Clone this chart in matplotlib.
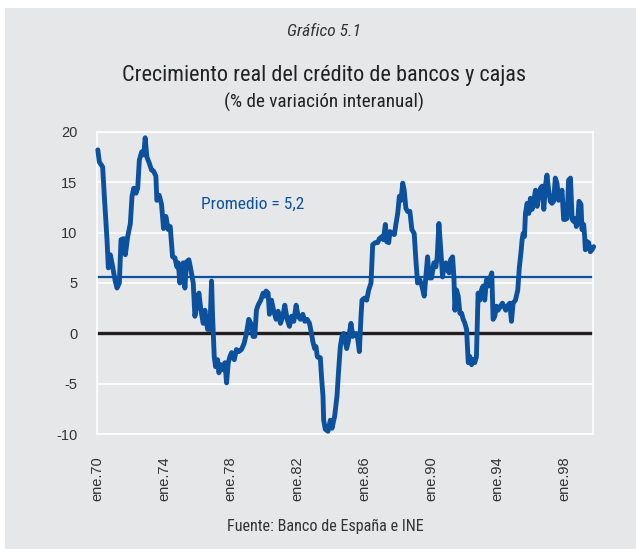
import os
import matplotlib
matplotlib.use("Agg")
import matplotlib.pyplot as plt
from matplotlib.patches import Rectangle
from matplotlib import font_manager as fm

# ---- data ----
years = [
    1970.03, 1970.12, 1970.32, 1970.42, 1970.58, 1970.66, 1970.78, 1970.92, 1971.06, 1971.18,
    1971.32, 1971.42, 1971.58, 1971.68, 1971.82, 1971.98, 1972.08, 1972.18, 1972.32, 1972.42,
    1972.52, 1972.66, 1972.78, 1972.87, 1972.97, 1973.11, 1973.25, 1973.37, 1973.51, 1973.57,
    1973.71, 1973.85, 1973.97, 1974.11, 1974.25, 1974.37, 1974.51, 1974.65, 1974.77, 1974.85,
    1974.95, 1975.05, 1975.15, 1975.25, 1975.35, 1975.49, 1975.61, 1975.75, 1975.85, 1975.95,
    1976.09, 1976.21, 1976.35, 1976.45, 1976.61, 1976.75, 1976.85, 1976.91, 1977.01, 1977.09,
    1977.21, 1977.29, 1977.41, 1977.55, 1977.65, 1977.75, 1977.85, 1977.95, 1978.05, 1978.21,
    1978.34, 1978.48, 1978.64, 1978.80, 1978.94, 1979.08, 1979.20, 1979.34, 1979.44, 1979.54,
    1979.64, 1979.80, 1979.94, 1980.04, 1980.12, 1980.24, 1980.32, 1980.44, 1980.58, 1980.72,
    1980.84, 1980.98, 1981.12, 1981.24, 1981.38, 1981.52, 1981.64, 1981.78, 1981.92, 1982.04,
    1982.18, 1982.32, 1982.44, 1982.58, 1982.72, 1982.84, 1982.92, 1983.03, 1983.11, 1983.19,
    1983.27, 1983.37, 1983.45, 1983.53, 1983.57, 1983.67, 1983.83, 1983.97, 1984.07, 1984.23,
    1984.37, 1984.47, 1984.57, 1984.67, 1984.77, 1984.87, 1984.95, 1985.05, 1985.13, 1985.21,
    1985.31, 1985.41, 1985.51, 1985.61, 1985.71, 1985.81, 1985.87, 1986.01, 1986.15, 1986.27,
    1986.41, 1986.51, 1986.67, 1986.81, 1986.91, 1987.07, 1987.15, 1987.27, 1987.35, 1987.47,
    1987.55, 1987.67, 1987.81, 1987.91, 1988.01, 1988.11, 1988.21, 1988.31, 1988.40, 1988.50,
    1988.60, 1988.74, 1988.86, 1989.00, 1989.10, 1989.20, 1989.34, 1989.46, 1989.60, 1989.70,
    1989.80, 1989.90, 1990.04, 1990.18, 1990.30, 1990.38, 1990.48, 1990.58, 1990.70, 1990.78,
    1990.90, 1990.98, 1991.10, 1991.18, 1991.30, 1991.38, 1991.44, 1991.54, 1991.64, 1991.74,
    1991.84, 1991.94, 1992.04, 1992.14, 1992.24, 1992.34, 1992.44, 1992.54, 1992.63, 1992.73,
    1992.83, 1992.93, 1993.03, 1993.13, 1993.23, 1993.33, 1993.43, 1993.57, 1993.65, 1993.73,
    1993.83, 1993.93, 1994.03, 1994.17, 1994.29, 1994.37, 1994.49, 1994.63, 1994.73, 1994.83,
    1994.93, 1995.07, 1995.21, 1995.30, 1995.40, 1995.47, 1995.53, 1995.61, 1995.67, 1995.77,
    1995.87, 1995.97, 1996.07, 1996.17, 1996.27, 1996.37, 1996.47, 1996.57, 1996.67, 1996.77,
    1996.87, 1996.96, 1997.06, 1997.16, 1997.26, 1997.36, 1997.46, 1997.56, 1997.66, 1997.76,
    1997.86, 1997.96, 1998.06, 1998.16, 1998.26, 1998.37, 1998.47, 1998.56, 1998.66, 1998.72,
    1998.80, 1998.88, 1999.00, 1999.06, 1999.16, 1999.22, 1999.26, 1999.36, 1999.46, 1999.56,
    1999.66, 1999.76,
]
credito = [
    18.2, 17.0, 16.5, 13.6, 9.3, 6.5, 7.8, 6.6, 5.3, 4.5,
    5.0, 9.3, 9.4, 7.8, 9.6, 10.9, 13.6, 14.4, 13.9, 14.4,
    17.2, 18.0, 17.7, 19.4, 17.5, 16.9, 16.2, 16.1, 15.6, 13.2,
    13.7, 12.8, 10.4, 11.6, 10.3, 10.6, 7.6, 7.5, 6.6, 7.0,
    5.0, 6.6, 7.0, 4.5, 7.1, 7.3, 6.3, 5.0, 1.7, 2.7,
    4.0, 2.3, 1.0, 2.3, 0.4, 0.4, 5.2, 1.7, -2.3, -3.3,
    -2.6, -3.9, -3.1, -3.6, -2.9, -4.9, -2.9, -2.3, -1.9, -2.6,
    -1.6, -1.8, -1.6, -1.0, 0.0, 1.4, 1.0, -0.3, -0.3, 2.3,
    2.8, 3.3, 4.0, 3.7, 4.2, 4.0, 1.9, 3.3, 2.2, 1.4,
    2.2, 1.0, 1.7, 2.8, 1.4, 0.7, 1.7, 1.2, 2.8, 1.7,
    1.4, 1.9, 1.2, 1.4, 1.0, 0.0, -0.8, -1.5, -1.3, -2.3,
    -2.4, -2.4, -4.5, -6.2, -8.6, -9.5, -9.7, -8.6, -9.4, -8.2,
    -6.2, -3.6, -1.3, -0.3, 0.0, -0.8, -1.5, -0.8, 0.2, 1.0,
    -0.3, -0.1, 0.0, -0.5, -1.8, 1.7, 3.3, 3.5, 3.3, 4.3,
    5.0, 8.8, 9.0, 9.0, 9.4, 9.6, 9.3, 10.8, 9.1, 9.0,
    10.1, 9.9, 9.8, 10.9, 11.9, 13.6, 13.2, 14.9, 14.2, 12.4,
    12.1, 12.1, 10.3, 9.9, 7.3, 5.0, 5.3, 4.7, 3.7, 5.6,
    7.6, 5.5, 5.5, 7.0, 6.6, 7.6, 10.9, 8.6, 5.6, 6.6,
    7.0, 6.3, 6.0, 7.3, 7.6, 5.6, 2.3, 4.3, 3.7, 2.0,
    2.0, 1.4, 1.0, 0.4, -2.9, -2.3, -3.1, -2.6, -2.9, -2.3,
    4.0, 3.3, 4.3, 4.7, 3.3, 5.3, 4.7, 5.6, 6.0, 1.4,
    1.7, 2.7, 2.3, 2.7, 3.0, 2.7, 2.3, 2.8, 3.0, 1.2,
    3.0, 3.3, 4.3, 6.5, 8.0, 9.3, 9.9, 9.6, 11.9, 12.9,
    11.9, 13.4, 12.3, 13.1, 14.2, 12.6, 13.7, 14.4, 14.6, 12.3,
    14.7, 15.7, 14.2, 13.1, 12.9, 13.1, 15.4, 14.9, 13.2, 13.6,
    14.2, 11.3, 11.3, 11.4, 15.2, 15.4, 11.3, 11.1, 11.4, 10.6,
    10.9, 13.1, 12.8, 10.3, 10.8, 9.6, 8.3, 9.1, 9.0, 8.1,
    8.3, 8.6,
]
promedio_linea = 5.6
promedio_texto = "Promedio = 5,2"
tick_years = [1970, 1974, 1978, 1982, 1986, 1990, 1994, 1998]
tick_labels = ["ene.70", "ene.74", "ene.78", "ene.82", "ene.86", "ene.90", "ene.94", "ene.98"]
y_ticks = [-10, -5, 0, 5, 10, 15, 20]
y_labels = ["-10", "-5", "0", "5", "10", "15", "20"]

titulo_sup = "Gráfico 5.1"
titulo = "Crecimiento real del crédito de bancos y cajas"
subtitulo = "(% de variación interanual)"
fuente = "Fuente: Banco de España e INE"

# ---- font search: a condensed sans if one is installed ----
BAD = ("bold", "light", "thin", "semi", "extra", "black", "medium", "heavy", "mono")


def find_condensed(italic):
    prefs = ("liberation", "roboto", "noto", "opensans", "open", "dejavu", "lato")
    found = []
    for f in fm.fontManager.ttflist:
        b = os.path.basename(f.fname).lower()
        if not ("narrow" in b or "condensed" in b or "cond" in b):
            continue
        if any(k in b for k in BAD):
            continue
        is_it = ("italic" in b or "oblique" in b)
        if is_it != italic:
            continue
        rank = len(prefs)
        for i, p in enumerate(prefs):
            if p in b:
                rank = i
                break
        found.append((rank, f.fname))
    found.sort()
    return found[0][1] if found else None


cond_reg = find_condensed(False)
cond_it = find_condensed(True)


def fp(size, italic=False):
    path = cond_it if italic else cond_reg
    if path:
        return fm.FontProperties(fname=path, size=size)
    return fm.FontProperties(family="DejaVu Sans", size=size * 0.84,
                             style="italic" if italic else "normal")


# ---- styling ----
BG = "#e6e7e9"
BLUE = "#0b519e"
TXT = "#333333"
REG = ["Liberation Sans", "DejaVu Sans"]

W, H = 636, 549
fig = plt.figure(figsize=(W / 100, H / 100), dpi=100)
fig.patch.set_facecolor("white")
fig.patches.append(Rectangle((5 / W, 0), 1 - 5 / W, 1 - 8 / H, transform=fig.transFigure,
                             facecolor=BG, edgecolor="none", zorder=-10))

ax = fig.add_axes([97 / W, 1 - 434.3 / H, (593 - 97) / W, (434.3 - 131.7) / H])
ax.set_facecolor(BG)
ax.set_xlim(1969.98, 1999.72)
ax.set_ylim(-10, 20)
for s in ax.spines.values():
    s.set_color("white")
    s.set_linewidth(1.2)
ax.set_yticks(y_ticks)
ax.set_yticklabels(y_labels, family=REG, fontsize=10.5, color=TXT)
ax.set_xticks(tick_years)
ax.set_xticklabels(tick_labels, family=REG, fontsize=10.5, color=TXT, rotation=90)
ax.tick_params(axis="y", length=0, pad=14)
ax.tick_params(axis="x", length=0, pad=16)
ax.grid(axis="y", color="white", linewidth=1.2)
ax.set_axisbelow(True)

ax.axhline(0, color="#231f20", linewidth=2.4, zorder=2)
ax.axhline(promedio_linea, color=BLUE, linewidth=1.6, zorder=2)
ax.plot(years, credito, color=BLUE, linewidth=3.5, solid_joinstyle="round",
        solid_capstyle="round", zorder=3, clip_on=False)
ax.text(1976.2, 12.8, promedio_texto, color=BLUE, fontproperties=fp(12.5),
        ha="left", va="center")

cx = 0.509
fig.text(cx, 1 - 31 / H, titulo_sup, ha="center", va="center",
         fontproperties=fp(12.5, italic=True), color=TXT)
fig.text(cx, 1 - 75 / H, titulo, ha="center", va="center",
         fontproperties=fp(16), color="#222222")
fig.text(cx, 1 - 102 / H, subtitulo, ha="center", va="center",
         fontproperties=fp(13.8), color="#222222")
fig.text(0.511, 1 - 526 / H, fuente, ha="center", va="center",
         fontproperties=fp(11.6), color=TXT)

fig.savefig("out.png", dpi=100, facecolor=fig.get_facecolor())
